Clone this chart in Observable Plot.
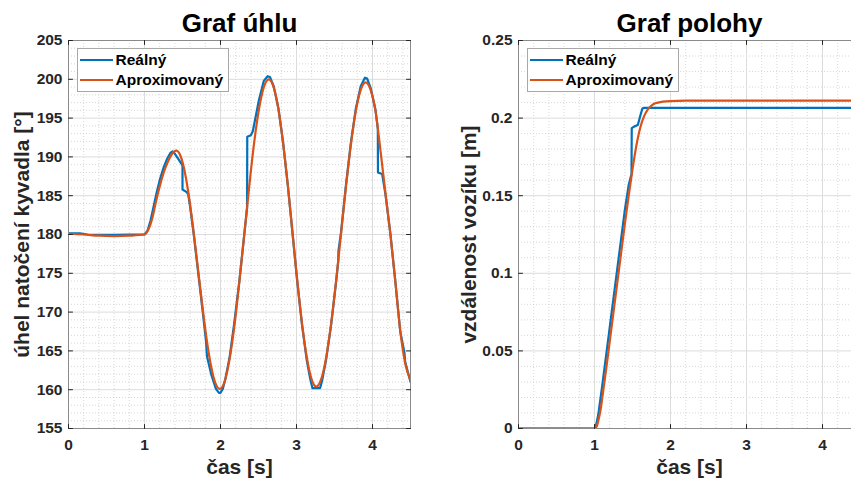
<!DOCTYPE html>
<html>
<head>
<meta charset="utf-8">
<script src="https://cdn.jsdelivr.net/npm/d3@7"></script>
<script src="https://cdn.jsdelivr.net/npm/@observablehq/plot@0.6"></script>
<style>
html,body{margin:0;padding:0;background:#fff;overflow:hidden}
#root{position:relative;width:851px;height:484px;overflow:hidden;font-family:"Liberation Sans",Arial,Helvetica,sans-serif}
.panel{position:absolute;top:0}
.legend{position:absolute;top:48px;width:150px;height:42px;border:1px solid #a8a8a8;background:#fff}
.legend .row{position:absolute;left:2px;height:20px;display:flex;align-items:center;font-weight:bold;font-size:15.5px;color:#000;white-space:nowrap}
.legend .sw{width:33px;height:2.4px;margin-right:3px}
</style>
</head>
<body>
<div id="root"></div>
<script>
// ---- data ----
const seriesNames = ["Reálný", "Aproximovaný"];
const seriesColors = ["#0072BD", "#D95319"];

const xTicks = [0, 1, 2, 3, 4];
const angleTicks = [155, 160, 165, 170, 175, 180, 185, 190, 195, 200, 205];
const posTicks = [0, 0.05, 0.1, 0.15, 0.2, 0.25];

const timeRealAngle = [0, 0.15, 0.25, 0.4, 0.6, 0.8, 1.0, 1.04, 1.08, 1.12, 1.16, 1.2, 1.25, 1.3, 1.34, 1.37, 1.4, 1.44, 1.48, 1.5, 1.5, 1.55, 1.575, 1.6, 1.648, 1.705, 1.762, 1.81, 1.822, 1.88, 1.94, 1.98, 2.0, 2.03, 2.06, 2.12, 2.18, 2.248, 2.3, 2.35, 2.352, 2.4, 2.425, 2.505, 2.57, 2.62, 2.65, 2.7, 2.761, 2.823, 2.886, 2.948, 3.01, 3.073, 3.135, 3.18, 3.21, 3.31, 3.34, 3.39, 3.455, 3.52, 3.55, 3.552, 3.585, 3.65, 3.715, 3.78, 3.845, 3.9, 3.93, 3.975, 4.04, 4.07, 4.072, 4.127, 4.17, 4.235, 4.3, 4.365, 4.42, 4.43, 4.5];
const angleReal = [180.15, 180.15, 180.0, 179.95, 179.95, 180.0, 180.0, 180.5, 181.8, 183.6, 185.4, 187.0, 188.6, 189.8, 190.5, 190.7, 190.4, 189.8, 189.2, 188.9, 185.8, 185.5, 185.2, 183.6, 180.0, 175.2, 170.4, 166.2, 164.3, 161.9, 160.1, 159.6, 159.6, 160.1, 161.2, 164.2, 168.5, 174.0, 178.8, 183.4, 192.6, 192.8, 193.3, 197.3, 199.8, 200.4, 200.3, 199.1, 196.3, 191.9, 186.3, 180.1, 173.9, 168.3, 163.8, 161.4, 160.2, 160.2, 161.3, 163.9, 168.3, 173.8, 176.6, 177.9, 180.2, 186.3, 191.8, 196.2, 199.1, 200.2, 200.1, 198.9, 196.0, 193.6, 188.0, 187.8, 185.2, 180.1, 174.0, 167.5, 164.8, 163.6, 161.0];

const timeApproxAngle = [0, 0.2, 0.4, 0.6, 0.8, 1.0, 1.05, 1.1, 1.15, 1.2, 1.25, 1.3, 1.35, 1.42, 1.477, 1.534, 1.591, 1.648, 1.705, 1.762, 1.819, 1.876, 1.933, 1.99, 2.055, 2.119, 2.184, 2.248, 2.313, 2.378, 2.442, 2.507, 2.571, 2.636, 2.698, 2.761, 2.823, 2.886, 2.948, 3.01, 3.073, 3.135, 3.198, 3.26, 3.325, 3.39, 3.455, 3.52, 3.585, 3.65, 3.715, 3.78, 3.845, 3.91, 3.975, 4.04, 4.105, 4.17, 4.235, 4.3, 4.365, 4.43, 4.5];
const angleApprox = [180.1, 180.0, 179.85, 179.8, 179.85, 180.0, 180.6, 182.0, 184.2, 186.2, 187.9, 189.2, 190.2, 190.8, 190.05, 187.87, 184.48, 180.19, 175.45, 170.71, 166.42, 163.03, 160.85, 160.1, 161.08, 163.91, 168.32, 173.89, 180.05, 186.21, 191.78, 196.19, 199.02, 200.0, 199.03, 196.22, 191.84, 186.32, 180.2, 174.08, 168.56, 164.18, 161.37, 160.4, 161.36, 164.14, 168.48, 173.94, 180.0, 186.06, 191.52, 195.86, 198.64, 199.6, 198.65, 195.9, 190.8, 185.4, 180.1, 174.0, 167.6, 163.4, 161.2];

const timeRealPos = [0, 1.0, 1.02, 1.05, 1.1, 1.15, 1.2, 1.25, 1.3, 1.35, 1.4, 1.45, 1.487, 1.49, 1.52, 1.57, 1.6, 1.63, 1.65, 4.5];
const posReal = [0, 0, 0.002, 0.009, 0.027, 0.046, 0.065, 0.084, 0.103, 0.122, 0.141, 0.157, 0.164, 0.1935, 0.1945, 0.1955, 0.201, 0.2062, 0.2066, 0.2066];

const timeApproxPos = [0, 1.0, 1.03, 1.05, 1.08, 1.1, 1.15, 1.2, 1.25, 1.3, 1.35, 1.4, 1.45, 1.5, 1.55, 1.6, 1.65, 1.7, 1.75, 1.8, 1.9, 2.0, 2.2, 4.5];
const posApprox = [0, 0, 0.0015, 0.005, 0.012, 0.019, 0.037, 0.056, 0.075, 0.094, 0.113, 0.132, 0.150, 0.167, 0.182, 0.1935, 0.201, 0.2055, 0.208, 0.2095, 0.2106, 0.211, 0.2112, 0.2112];

// ---- drawing ----
const ink = "#262626";
const rows = (ts, vs) => ts.map((t, i) => ({t, v: vs[i]}));
const tickShape = {draw(ctx, l) { ctx.moveTo(0, 0); ctx.lineTo(0, -l); }};
const fmt = d => String(d);

function makePanel(o) {
  const minorX = d3.range(0, o.xMax + 1e-9, 0.2).map(v => +v.toFixed(4))
    .filter(v => !xTicks.some(t => Math.abs(t - v) < 1e-6));
  const minorY = d3.range(o.yDomain[0], o.yDomain[1] + 1e-9, o.yMinorStep).map(v => +v.toFixed(6))
    .filter(v => !o.yTicks.some(t => Math.abs(t - v) < 1e-9));
  const tickOpts = {anchor: "start", length: 4, shape: tickShape, stroke: ink, strokeWidth: 1};
  return Plot.plot({
    width: o.width, height: 484,
    marginLeft: o.marginLeft, marginRight: o.marginRight, marginTop: 40, marginBottom: 56,
    x: {domain: [0, o.xMax]},
    y: {domain: o.yDomain},
    style: {fontFamily: "'Liberation Sans', Arial, Helvetica, sans-serif", background: "transparent", overflow: "visible"},
    marks: [
      Plot.ruleX(minorX, {stroke: "#cdcdcd", strokeDasharray: "1,2", strokeWidth: 0.8}),
      Plot.ruleY(minorY, {stroke: "#cdcdcd", strokeDasharray: "1,2", strokeWidth: 0.8}),
      Plot.ruleX(xTicks, {stroke: "#dcdcdc", strokeWidth: 1}),
      Plot.ruleY(o.yTicks, {stroke: "#dcdcdc", strokeWidth: 1}),
      Plot.line(rows(o.tR, o.vR), {x: "t", y: "v", stroke: seriesColors[0], strokeWidth: 2.2, clip: true}),
      Plot.line(rows(o.tA, o.vA), {x: "t", y: "v", stroke: seriesColors[1], strokeWidth: 2.2, curve: "monotone-x", clip: true}),
      Plot.frame({stroke: "#8a8a8a", strokeWidth: 1}),
      Plot.vector(xTicks, {...tickOpts, x: d => d, frameAnchor: "bottom", rotate: 0}),
      Plot.vector(xTicks, {...tickOpts, x: d => d, frameAnchor: "top", rotate: 180}),
      Plot.vector(o.yTicks, {...tickOpts, y: d => d, frameAnchor: "left", rotate: 90}),
      Plot.vector(o.yTicks, {...tickOpts, y: d => d, frameAnchor: "right", rotate: -90}),
      Plot.axisX(xTicks, {tickSize: 0, tickPadding: 10, fontSize: 15.5, fontWeight: "bold", fill: ink, label: null, tickFormat: fmt}),
      Plot.axisY(o.yTicks, {tickSize: 0, tickPadding: 6, fontSize: 15.5, fontWeight: "bold", fill: ink, label: null, tickFormat: fmt}),
      Plot.text([o.title], {frameAnchor: "top", dy: -17, fontSize: 26, fontWeight: "bold", fill: "#000", lineAnchor: "middle", textAnchor: "middle"}),
      Plot.text([o.xlabel], {frameAnchor: "bottom", dy: 39, fontSize: 21, fontWeight: "bold", fill: ink, lineAnchor: "middle", textAnchor: "middle"}),
      Plot.text([o.ylabel], {frameAnchor: "left", dx: o.ylabelDx, rotate: -90, fontSize: 21, fontWeight: "bold", fill: ink, lineAnchor: "middle", textAnchor: "middle"})
    ]
  });
}

function addLegend(root, left) {
  const lg = document.createElement("div");
  lg.className = "legend";
  lg.style.left = left + "px";
  seriesNames.forEach((name, i) => {
    const row = document.createElement("div");
    row.className = "row";
    row.style.top = (1 + 20 * i) + "px";
    const sw = document.createElement("span");
    sw.className = "sw";
    sw.style.background = seriesColors[i];
    const tx = document.createElement("span");
    tx.textContent = name;
    row.appendChild(sw); row.appendChild(tx);
    lg.appendChild(row);
  });
  root.appendChild(lg);
}

const root = document.getElementById("root");

const left = makePanel({
  width: 425, marginLeft: 68, marginRight: 15, xMax: 4.5,
  yDomain: [155, 205], yTicks: angleTicks, yMinorStep: 1,
  tR: timeRealAngle, vR: angleReal, tA: timeApproxAngle, vA: angleApprox,
  title: "Graf úhlu", xlabel: "čas [s]", ylabel: "úhel natočení kyvadla [°]", ylabelDx: -46.5
});
left.classList.add("panel");
left.style.left = "0px";
root.appendChild(left);

const right = makePanel({
  width: 440, marginLeft: 88, marginRight: 10, xMax: 4.5,
  yDomain: [0, 0.25], yTicks: posTicks, yMinorStep: 0.01,
  tR: timeRealPos, vR: posReal, tA: timeApproxPos, vA: posApprox,
  title: "Graf polohy", xlabel: "čas [s]", ylabel: "vzdálenost vozíku [m]", ylabelDx: -49.5
});
right.classList.add("panel");
right.style.left = "430px";
root.appendChild(right);

addLegend(root, 76.5);
addLegend(root, 526.5);
</script>
</body>
</html>
